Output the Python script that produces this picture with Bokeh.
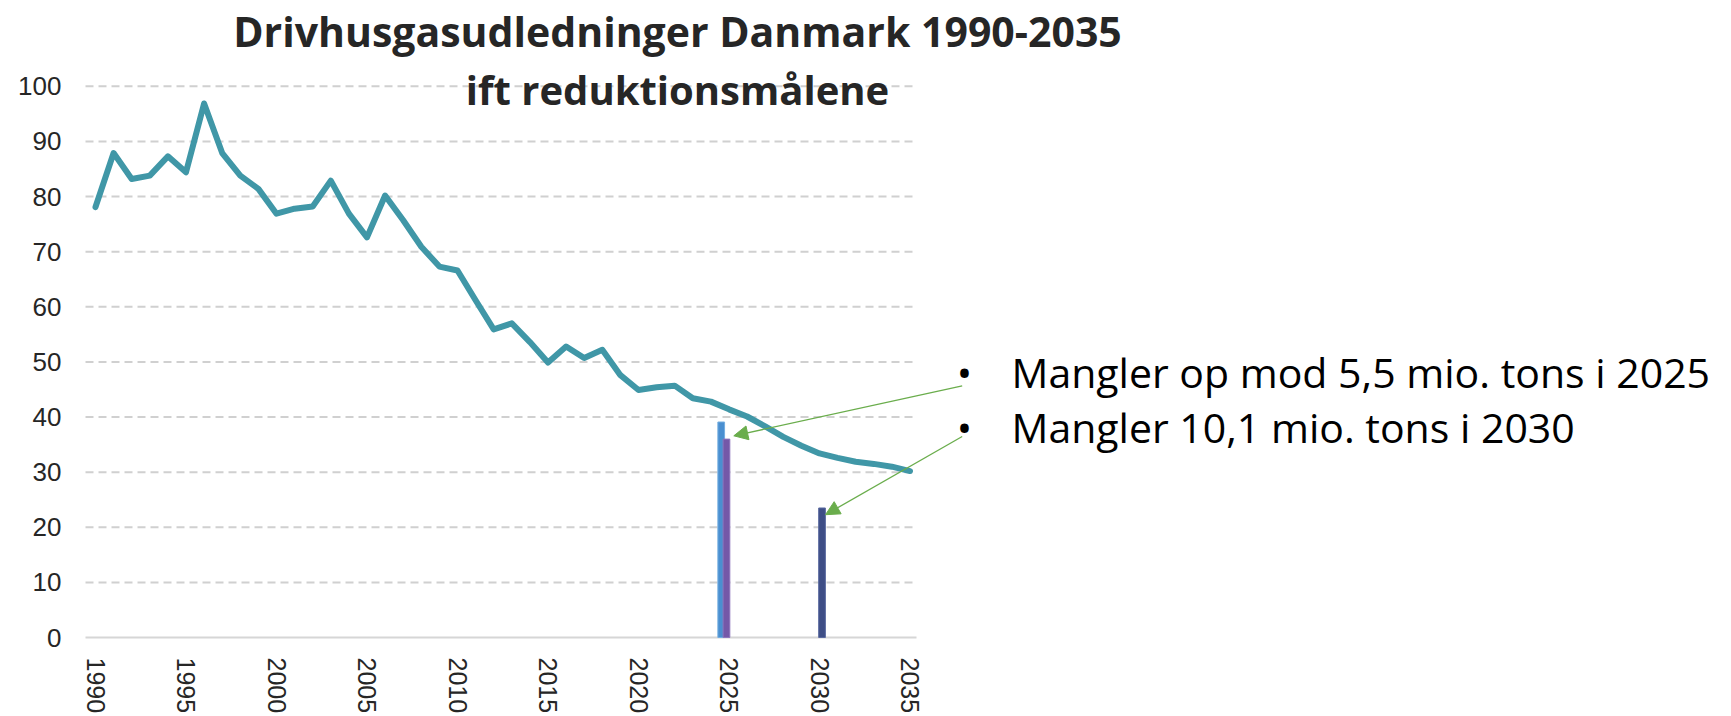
import math
from bokeh.plotting import figure
from bokeh.models import Range1d, FixedTicker, Label, Arrow, NormalHead, ColumnDataSource
from bokeh.embed import file_html
from bokeh.resources import INLINE

# ---------------- data ----------------
years = list(range(1990, 2036))
emissions = [78.1, 87.9, 83.2, 83.8, 87.3, 84.4, 96.9, 87.9, 83.8, 81.4,
             76.9, 77.8, 78.2, 82.9, 76.9, 72.6, 80.2, 75.7, 70.9, 67.3,
             66.6, 61.2, 55.9, 57.0, 53.6, 49.9, 52.8, 50.7, 52.2, 47.6,
             44.9, 45.4, 45.7, 43.4, 42.8, 41.4, 40.1, 38.3, 36.4, 34.8,
             33.4, 32.6, 31.9, 31.5, 31.0, 30.2]
bar_years = [2025, 2025, 2030]
bar_values = [39.1, 36.0, 23.5]
y_ticks = [0, 10, 20, 30, 40, 50, 60, 70, 80, 90, 100]
x_ticks = [1990, 1995, 2000, 2005, 2010, 2015, 2020, 2025, 2030, 2035]
title_lines = ["Drivhusgasudledninger Danmark 1990-2035", "ift reduktionsmålene"]
bullet_lines = ["Mangler op mod 5,5 mio. tons i 2025", "Mangler 10,1 mio. tons i 2030"]

# ---------------- layout ----------------
W, H = 1731, 716
LEFT, BOTTOM = 68, 68
PX_YEAR, PX_UNIT = 18.1, 5.52
X0_CANVAS = 95      # canvas x of first year
Y0_CANVAS = 638     # canvas y of value 0
LABEL_DY = 15       # empirical correction for label baselines
frame_w, frame_h = W - LEFT, H - BOTTOM
x_start = years[0] - (X0_CANVAS - LEFT) / PX_YEAR
x_end = x_start + frame_w / PX_YEAR
y_end = Y0_CANVAS / PX_UNIT
y_start = y_end - frame_h / PX_UNIT


def fx(px):  # canvas pixel -> data x
    return x_start + (px - LEFT) / PX_YEAR


def fy(py):  # canvas pixel -> data y
    return y_end - py / PX_UNIT


BAR_OFFSETS = [-0.43, -0.14, 0.14]
BAR_WIDTH = 0.37
BAR_COLORS = ["#4A8FD0", "#7458A8", "#3E4E86"]
BAR_EDGES = ["#74AEE0", "#8D74BC", "#5A6AA0"]
TEAL = "#4097A7"
GREEN = "#6AAD4C"
TXT = "#262626"

p = figure(width=W, height=H, output_backend="svg", toolbar_location=None,
           x_range=Range1d(x_start, x_end), y_range=Range1d(y_start, y_end),
           min_border_left=LEFT, min_border_bottom=BOTTOM,
           min_border_top=0, min_border_right=0)
p.outline_line_color = None
p.grid.visible = False
p.background_fill_color = "white"
p.border_fill_color = "white"

# axes
p.xaxis.ticker = FixedTicker(ticks=x_ticks)
p.xaxis.major_label_orientation = -math.pi / 2
p.xaxis.axis_line_color = None
p.xaxis.major_tick_line_color = None
p.xaxis.minor_tick_line_color = None
p.xaxis.major_tick_out = 0
p.xaxis.major_tick_in = 0
p.xaxis.major_label_standoff = 10
p.xaxis.major_label_text_font = "Liberation Sans"
p.xaxis.major_label_text_font_size = "25px"
p.xaxis.major_label_text_color = TXT

p.yaxis.ticker = FixedTicker(ticks=y_ticks)
p.yaxis.axis_line_color = None
p.yaxis.major_tick_line_color = None
p.yaxis.minor_tick_line_color = None
p.yaxis.major_tick_out = 0
p.yaxis.major_tick_in = 0
p.yaxis.major_label_standoff = 7
p.yaxis.major_label_text_font = "Liberation Sans"
p.yaxis.major_label_text_font_size = "26px"
p.yaxis.major_label_text_color = TXT

# gridlines
gx0, gx1 = fx(85), fx(916)
grid_y = y_ticks[1:]
p.segment(x0=[gx0] * len(grid_y), y0=grid_y, x1=[gx1] * len(grid_y), y1=grid_y,
          line_color="#D0D0D0", line_width=2, line_dash="8 5")
p.segment(x0=[gx0], y0=[y_ticks[0]], x1=[gx1], y1=[y_ticks[0]],
          line_color="#D6D6D6", line_width=2)

# bars
bar_src = ColumnDataSource(dict(
    x=[yr + o for yr, o in zip(bar_years, BAR_OFFSETS)],
    top=bar_values, fill=BAR_COLORS, edge=BAR_EDGES))
p.vbar(x="x", top="top", bottom=0, width=BAR_WIDTH, source=bar_src,
       fill_color="fill", line_color="edge", line_width=1)

# line
p.line(years, emissions, line_color=TEAL, line_width=6,
       line_join="round", line_cap="round")

# title
title_x = fx(677)
for txt, base, size in zip(title_lines, [46, 104], ["41px", "40px"]):
    p.add_layout(Label(x=title_x, y=fy(base - LABEL_DY), text=txt, text_align="center",
                       text_baseline="alphabetic", text_font="Open Sans",
                       text_font_style="bold", text_font_size=size,
                       text_color=TXT))

# bullets
for txt, base in zip(bullet_lines, [387, 442]):
    p.add_layout(Label(x=fx(1011), y=fy(base - LABEL_DY), text=txt, text_align="left",
                       text_baseline="alphabetic", text_font="Open Sans",
                       text_font_size="41px", text_color="black"))
    p.add_layout(Label(x=fx(964), y=fy(base - LABEL_DY), text="\u2022", text_align="center",
                       text_baseline="alphabetic", text_font="Open Sans",
                       text_font_size="41px", text_color="black"))

# arrows
arrow_specs = [((961.7, 386), (733.3, 436)), ((961.7, 436.7), (825, 515))]
for (sx, sy), (ex, ey) in arrow_specs:
    p.add_layout(Arrow(x_start=fx(sx), y_start=fy(sy), x_end=fx(ex), y_end=fy(ey),
                       line_color=GREEN, line_width=1.3,
                       end=NormalHead(size=14, fill_color=GREEN, line_color=GREEN)))

open("out.html", "w").write(file_html(p, INLINE))
